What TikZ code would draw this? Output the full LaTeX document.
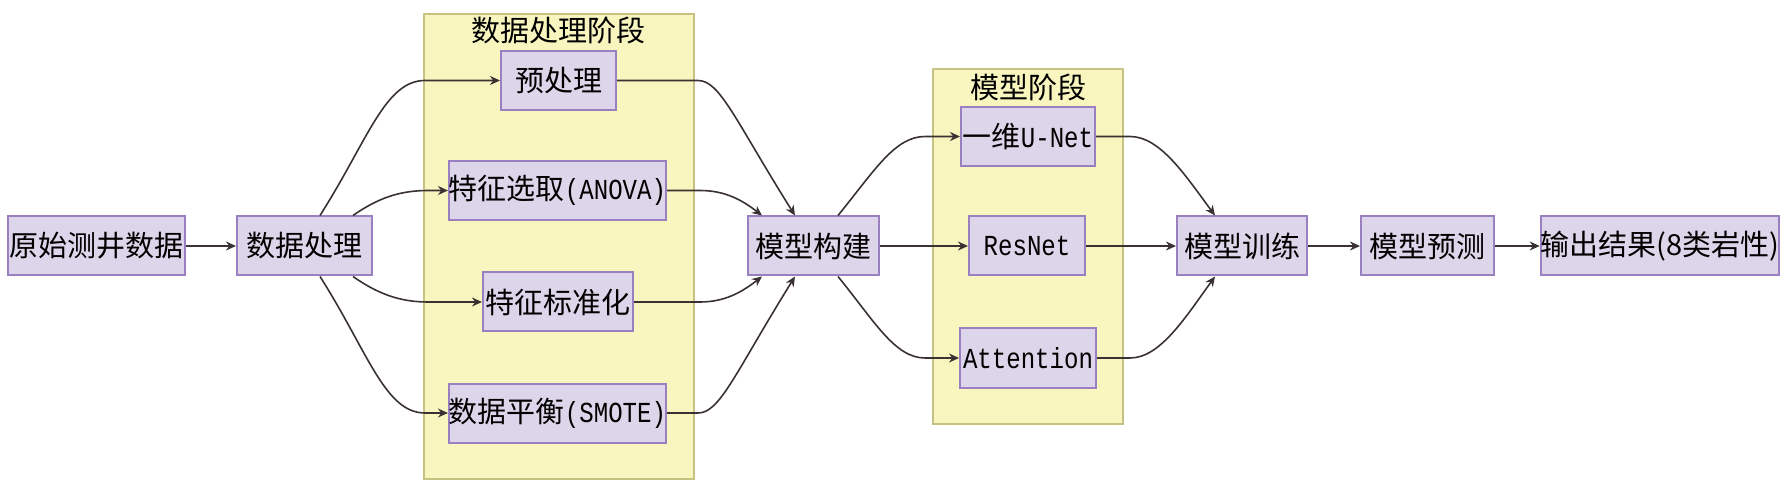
\documentclass[tikz,border=0pt]{standalone}
\usepackage{fontspec}
\setmainfont{Noto Sans CJK SC}
\newfontfamily\lat[FakeStretch=0.83]{Liberation Mono}
\usetikzlibrary{arrows.meta,calc}
\definecolor{boxfill}{HTML}{DDD5E9}
\definecolor{boxline}{HTML}{9A80C0}
\definecolor{clfill}{HTML}{F8F5BF}
\definecolor{clline}{HTML}{C8C282}
\definecolor{arr}{HTML}{3A3232}
\begin{document}
\begin{tikzpicture}[x=0.5pt,y=-0.5pt,font=\fontsize{14.5}{16}\selectfont,
 box/.style={draw=boxline,fill=boxfill,line width=1pt,inner sep=0pt,minimum height=29.5pt},
 cl/.style={draw=clline,fill=clfill,line width=1pt,inner sep=0pt},
 edge/.style={draw=arr,line width=0.8pt,-{Stealth[length=5pt,width=4.5pt]}}]
\useasboundingbox (0,0) rectangle (1786,496);
% clusters
\node[cl,minimum width=135pt,minimum height=232.5pt] (c1) at (559,246.5) {};
\node (c1l) at (558,30) {数据处理阶段};
\node[cl,minimum width=95pt,minimum height=177.5pt] (c2) at (1028,246.5) {};
\node (c2l) at (1028,87) {模型阶段};
% nodes
\node[box,minimum width=88.5pt] (raw) at (96.5,246) {原始测井数据};
\node[box,minimum width=67.5pt] (proc) at (304.5,246) {数据处理};
\node[box,minimum width=57.5pt] (pre) at (558.5,80.5) {预处理};
\node[box,minimum width=108.5pt] (sel) at (557.5,190.5) {特征选取{\lat(ANOVA)}};
\node[box,minimum width=75pt] (std) at (558,302) {特征标准化};
\node[box,minimum width=108.5pt] (bal) at (557.5,413) {数据平衡{\lat(SMOTE)}};
\node[box,minimum width=65.5pt] (build) at (813.5,246) {模型构建};
\node[box,minimum width=67pt] (unet) at (1028,136.5) {一维{\lat U-Net}};
\node[box,minimum width=58pt] (res) at (1027,246) {\lat ResNet};
\node[box,minimum width=68pt] (att) at (1028,358) {\lat Attention};
\node[box,minimum width=65pt] (train) at (1242,246) {模型训练};
\node[box,minimum width=66.5pt] (pred) at (1427.5,246) {模型预测};
\node[box,minimum width=113pt] (out) at (1660,246) {输出结果(8类岩性)};
% edges
\draw[edge] (raw) -- (proc);
\draw[edge] ($(proc.north)+(15.5,0)$) .. controls (368,140) and (385,80.5) .. (425,80.5) -- (pre.west);
\draw[edge] ($(proc.north)+(48.5,0)$) .. controls (378,198) and (400,190.5) .. (428,190.5) -- (sel.west);
\draw[edge] ($(proc.south)+(48.5,0)$) .. controls (378,294) and (400,302) .. (428,302) -- (std.west);
\draw[edge] ($(proc.south)+(15.5,0)$) .. controls (368,352) and (385,413) .. (425,413) -- (bal.west);
\draw[edge] (pre.east) -- (698,80.5) .. controls (720,80.5) and (735,120) .. ($(build.north)+(-18.5,0)$);
\draw[edge] (sel.east) -- (700,190.5) .. controls (725,190.5) and (742,200) .. ($(build.north)+(-51.5,0)$);
\draw[edge] (std.east) -- (700,302) .. controls (725,302) and (742,292) .. ($(build.south)+(-51.5,0)$);
\draw[edge] (bal.east) -- (698,413) .. controls (720,413) and (735,373) .. ($(build.south)+(-18.5,0)$);
\draw[edge] ($(build.north)+(24.5,0)$) .. controls (875,170) and (895,136.5) .. (925,136.5) -- (unet.west);
\draw[edge] (build) -- (res);
\draw[edge] ($(build.south)+(24.5,0)$) .. controls (875,322) and (895,358) .. (925,358) -- (att.west);
\draw[edge] (unet.east) -- (1130,136.5) .. controls (1160,136.5) and (1185,175) .. ($(train.north)+(-27,0)$);
\draw[edge] (res) -- (train);
\draw[edge] (att.east) -- (1130,358) .. controls (1160,358) and (1185,318) .. ($(train.south)+(-27,0)$);
\draw[edge] (train) -- (pred);
\draw[edge] (pred) -- (out);
\end{tikzpicture}
\end{document}
